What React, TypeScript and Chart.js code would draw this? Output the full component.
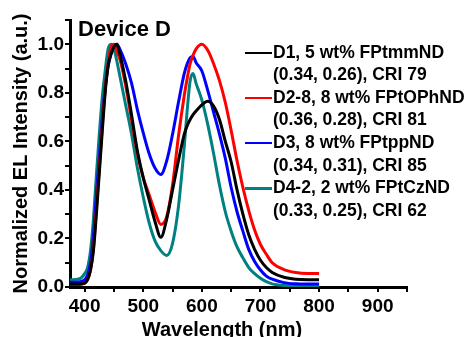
import React, { useEffect, useRef } from "react";
import { Chart, registerables } from "chart.js";

Chart.register(...registerables);

const wavelengths = [375, 380, 390, 395, 400, 405, 410, 415, 420, 425, 430, 435, 440, 445, 450, 455, 460, 470, 480, 490, 500, 510, 520, 530, 540, 550, 560, 570, 575, 580, 585, 590, 600, 610, 620, 630, 640, 650, 660, 670, 680, 690, 700, 710, 720, 740, 760, 780, 800];

const d1 = [0.012, 0.012, 0.012, 0.013, 0.016, 0.03, 0.07, 0.15, 0.3, 0.47, 0.64, 0.8, 0.91, 0.96, 0.99, 1.0, 0.96, 0.85, 0.71, 0.56, 0.45, 0.36, 0.27, 0.205, 0.28, 0.4, 0.52, 0.63, 0.665, 0.69, 0.71, 0.725, 0.75, 0.765, 0.745, 0.69, 0.6, 0.515, 0.4, 0.3, 0.215, 0.155, 0.11, 0.08, 0.06, 0.04, 0.032, 0.03, 0.03];
const d2 = [0.01, 0.01, 0.01, 0.012, 0.015, 0.03, 0.07, 0.16, 0.32, 0.49, 0.66, 0.81, 0.92, 0.99, 1.0, 0.97, 0.94, 0.83, 0.69, 0.55, 0.45, 0.38, 0.31, 0.258, 0.29, 0.42, 0.62, 0.79, 0.86, 0.92, 0.955, 0.98, 1.0, 0.975, 0.92, 0.85, 0.76, 0.645, 0.52, 0.41, 0.315, 0.235, 0.175, 0.135, 0.1, 0.072, 0.06, 0.056, 0.056];
const d3 = [0.02, 0.02, 0.021, 0.024, 0.03, 0.05, 0.1, 0.21, 0.38, 0.53, 0.69, 0.82, 0.91, 0.96, 0.99, 1.0, 0.98, 0.92, 0.84, 0.73, 0.635, 0.55, 0.49, 0.463, 0.52, 0.63, 0.76, 0.88, 0.92, 0.945, 0.95, 0.925, 0.89, 0.81, 0.72, 0.63, 0.53, 0.41, 0.31, 0.23, 0.155, 0.105, 0.07, 0.045, 0.032, 0.018, 0.013, 0.012, 0.012];
const d4 = [0.03, 0.03, 0.033, 0.04, 0.055, 0.08, 0.15, 0.28, 0.46, 0.63, 0.78, 0.89, 0.98, 1.0, 0.98, 0.93, 0.87, 0.75, 0.63, 0.49, 0.37, 0.265, 0.19, 0.15, 0.13, 0.18, 0.33, 0.58, 0.73, 0.85, 0.88, 0.84, 0.77, 0.67, 0.55, 0.42, 0.31, 0.23, 0.165, 0.12, 0.08, 0.055, 0.036, 0.022, 0.013, 0.006, 0.004, 0.003, 0.003];

const seriesValues = [d1, d2, d3, d4];
const seriesNames = ["D1, 5 wt% FPtmmND", "D2-8, 8 wt% FPtOPhND", "D3, 8 wt% FPtppND", "D4-2, 2 wt% FPtCzND"];
const seriesNotes = ["(0.34, 0.26), CRI 79", "(0.36, 0.28), CRI 81", "(0.34, 0.31), CRI 85", "(0.33, 0.25), CRI 62"];
const seriesColors = ["#000000", "#ff0000", "#0000ff", "#008080"];

const xTickValues = [400, 450, 500, 550, 600, 650, 700, 750, 800, 850, 900, 950];
const yTickValues = [0, 0.1, 0.2, 0.3, 0.4, 0.5, 0.6, 0.7, 0.8, 0.9, 1.0, 1.1];

const chartTitle = "Device D";
const xTitle = "Wavelength (nm)";
const yTitle = "Normalized EL Intensity (a.u.)";

const FONT = "'Liberation Sans', Arial, Helvetica, sans-serif";

export default function App() {
  const canvasRef = useRef<HTMLCanvasElement | null>(null);

  useEffect(() => {
    const canvas = canvasRef.current;
    if (!canvas) return;
    const chart = new Chart(canvas, {
      type: "line",
      data: {
        datasets: seriesValues.map((vals, i) => ({
          label: seriesNames[i],
          data: wavelengths.map((w, j) => ({ x: w, y: vals[j] })),
          borderColor: seriesColors[i],
          backgroundColor: seriesColors[i],
          borderWidth: 3,
          pointRadius: 0,
          cubicInterpolationMode: "monotone" as const,
          fill: false,
        })),
      },
      options: {
        animation: false,
        responsive: true,
        maintainAspectRatio: false,
        layout: { padding: { left: 0, right: 69, top: 20, bottom: 0 } },
        plugins: {
          legend: { display: false },
          tooltip: { enabled: false },
        },
        scales: {
          x: {
            type: "linear",
            min: 375,
            max: 950,
            afterBuildTicks: (scale: any) => {
              scale.ticks = xTickValues.map((v) => ({ value: v }));
            },
            afterFit: (scale: any) => {
              scale.height = 50;
            },
            ticks: {
              autoSkip: false,
              maxRotation: 0,
              padding: 3,
              color: "#000",
              font: { family: FONT, size: 19, weight: "bold" },
              callback: (v: any) => (Number(v) % 100 === 0 ? String(v) : ""),
            },
            grid: {
              display: true,
              drawOnChartArea: false,
              drawTicks: true,
              tickLength: 5,
              color: "#000",
              lineWidth: 2,
            },
            border: { display: true, color: "#000", width: 3 },
            title: { display: false, text: xTitle },
          },
          y: {
            type: "linear",
            min: 0,
            max: 1.1,
            afterBuildTicks: (scale: any) => {
              scale.ticks = yTickValues.map((v) => ({ value: v }));
            },
            afterFit: (scale: any) => {
              scale.width = 70;
            },
            ticks: {
              autoSkip: false,
              padding: 1,
              color: "#000",
              font: { family: FONT, size: 19, weight: "bold" },
              callback: (v: any) => {
                const n = Math.round(Number(v) * 10);
                return n % 2 === 0 ? (n / 10).toFixed(1) : "";
              },
            },
            grid: {
              display: true,
              drawOnChartArea: false,
              drawTicks: true,
              tickLength: 5,
              color: "#000",
              lineWidth: 2,
            },
            border: { display: true, color: "#000", width: 3 },
            title: {
              display: true,
              text: yTitle,
              color: "#000",
              font: { family: FONT, size: 20, weight: "bold" },
              padding: { top: 9, bottom: 0 },
            },
          },
        },
      },
    });
    return () => chart.destroy();
  }, []);

  return (
    <div style={{ position: "fixed", left: 0, top: 0, width: 476, height: 337, background: "#fff", overflow: "hidden" }}>
      <canvas ref={canvasRef} style={{ position: "absolute", left: 0, top: 0, width: 476, height: 337 }} />
      <div
        style={{
          position: "absolute",
          left: 78,
          top: 18,
          fontFamily: FONT,
          fontWeight: "bold",
          fontSize: 22,
          lineHeight: "22px",
          color: "#000",
          whiteSpace: "nowrap",
        }}
      >
        {chartTitle}
      </div>
      <div
        style={{
          position: "absolute",
          left: 222,
          top: 319,
          transform: "translateX(-50%)",
          fontFamily: FONT,
          fontWeight: "bold",
          fontSize: 20,
          lineHeight: "20px",
          color: "#000",
          whiteSpace: "nowrap",
        }}
      >
        {xTitle}
      </div>
      <div style={{ position: "absolute", left: 245, top: 40.6, fontFamily: FONT, fontWeight: "bold", fontSize: 17.5, lineHeight: "22.6px", color: "#000" }}>
        {seriesNames.map((name, i) => (
          <div key={name} style={{ position: "relative", paddingLeft: 28, whiteSpace: "nowrap" }}>
            <div style={{ position: "absolute", left: 0, top: 11, width: 27, height: 2.5, background: seriesColors[i] }} />
            <div>{name}</div>
            <div>{seriesNotes[i]}</div>
          </div>
        ))}
      </div>
    </div>
  );
}
